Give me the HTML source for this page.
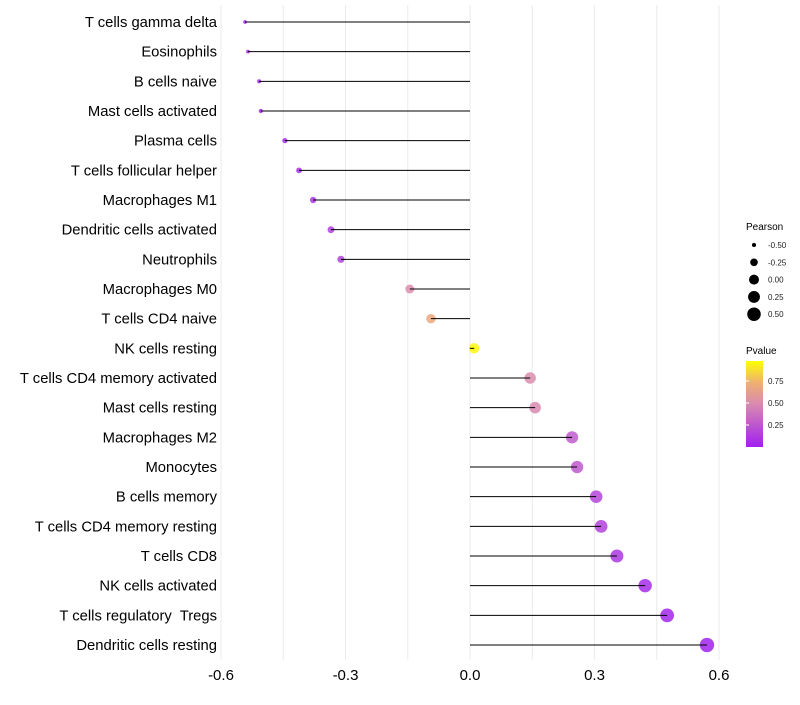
<!DOCTYPE html>
<html><head><meta charset="utf-8"><style>
body{margin:0;background:#fff;font-family:"Liberation Sans",sans-serif}
svg text{font-family:"Liberation Sans",sans-serif;white-space:pre}
</style></head><body>
<svg id="chart" width="800" height="700">
<defs><linearGradient id="pg" x1="0" y1="1" x2="0" y2="0">
<stop offset="0" stop-color="#A020F0"/><stop offset="0.5" stop-color="#D98AB0"/><stop offset="0.75" stop-color="#F0B070"/><stop offset="1" stop-color="#FFFF00"/></linearGradient></defs>
<g id="grid"></g>
<g id="marks"></g>
<g id="ylabels"></g>
<g id="xlabels"></g>
<g>
<text x="746" y="230" font-size="10">Pearson</text>
<g id="sizeleg"></g>
</g>
<g>
<text x="746" y="354" font-size="10">Pvalue</text>
<rect x="746" y="361" width="17" height="86" fill="url(#pg)"/>
<g id="colleg"></g>
</g>
</svg>
<script>
const categories=["T cells gamma delta","Eosinophils","B cells naive","Mast cells activated","Plasma cells","T cells follicular helper","Macrophages M1","Dendritic cells activated","Neutrophils","Macrophages M0","T cells CD4 naive","NK cells resting","T cells CD4 memory activated","Mast cells resting","Macrophages M2","Monocytes","B cells memory","T cells CD4 memory resting","T cells CD8","NK cells activated","T cells regulatory  Tregs","Dendritic cells resting"];
const pearson=[-0.542,-0.535,-0.508,-0.504,-0.446,-0.412,-0.378,-0.335,-0.311,-0.145,-0.094,0.010,0.145,0.157,0.246,0.258,0.304,0.316,0.354,0.422,0.475,0.571];
const pvalue=[0.01,0.01,0.02,0.02,0.05,0.07,0.1,0.14,0.17,0.52,0.7,0.98,0.52,0.5,0.28,0.26,0.18,0.16,0.11,0.05,0.03,0.01];
const xTicks=[-0.6,-0.3,0.0,0.3,0.6];
const xTickLabels=["-0.6","-0.3","0.0","0.3","0.6"];
const sizeLegendVals=[-0.5,-0.25,0,0.25,0.5];
const sizeLegendLabels=["-0.50","-0.25","0.00","0.25","0.50"];
const colorLegendVals=[0.25,0.5,0.75];
const colorLegendLabels=["0.25","0.50","0.75"];
const NS="http://www.w3.org/2000/svg";
const xs=v=>470+v*415;
const ys=i=>22+i*(623/21);
const rs=v=>Math.sqrt(Math.max(3.5,4.5+44*(v+0.5)));
const stops=[[0,[160,32,240]],[0.5,[217,138,176]],[0.75,[240,176,112]],[1,[255,255,0]]];
function col(p){for(let k=1;k<stops.length;k++){if(p<=stops[k][0]){const a=stops[k-1],b=stops[k],t=(p-a[0])/(b[0]-a[0]);return "rgb("+a[1].map((c,j)=>Math.round(c+(b[1][j]-c)*t)).join(",")+")";}}return "rgb(255,255,0)";}
function mk(tag,attrs,parent){const e=document.createElementNS(NS,tag);for(const k in attrs)e.setAttribute(k,attrs[k]);document.getElementById(parent).appendChild(e);return e;}
for(let v=-0.6;v<=0.61;v+=0.15){const g=mk("line",{x1:xs(v),x2:xs(v),y1:5,y2:660,stroke:"#ebebeb","stroke-width":1},"grid");

}
categories.forEach((c,i)=>{
const y=ys(i);
const d=mk("circle",{cx:xs(pearson[i]),cy:y,r:rs(pearson[i]),fill:col(pvalue[i]),"fill-opacity":0.85},"marks");


const l=mk("line",{x1:xs(0),x2:xs(pearson[i]),y1:y,y2:y,stroke:"#000","stroke-width":1},"marks");


const t=mk("text",{x:217,y:y+5,"font-size":14.8,"text-anchor":"end",fill:"#000"},"ylabels");t.textContent=c;


});
xTicks.forEach((v,i)=>{const t=mk("text",{x:xs(v),y:680,"font-size":15,"text-anchor":"middle",fill:"#000"},"xlabels");t.textContent=xTickLabels[i];

});
sizeLegendVals.forEach((v,i)=>{const y=245+i*17.3;
const c=mk("circle",{cx:754,cy:y,r:rs(v)*0.97,fill:"#000"},"sizeleg");


const t=mk("text",{x:768,y:y+3,"font-size":8,fill:"#222"},"sizeleg");t.textContent=sizeLegendLabels[i];

});
colorLegendVals.forEach((v,i)=>{const y=447-v*88;
const tk=mk("line",{x1:746,x2:749,y1:y,y2:y,stroke:"#fff"},"colleg");


const t=mk("text",{x:768,y:y+3,"font-size":8,fill:"#222"},"colleg");t.textContent=colorLegendLabels[i];

});
</script>
</body></html>
